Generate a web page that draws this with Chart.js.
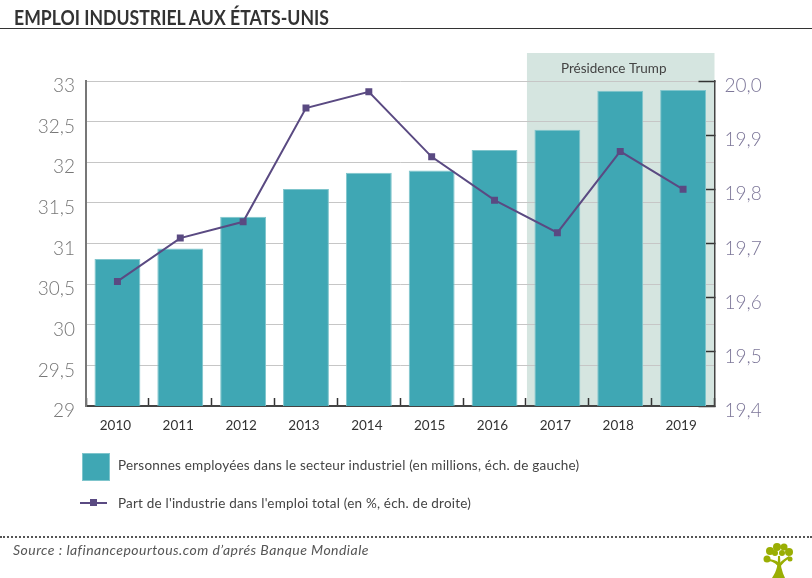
<!DOCTYPE html>
<html lang="fr">
<head>
<meta charset="utf-8">
<title>Emploi industriel aux États-Unis</title>
<script src="https://cdn.jsdelivr.net/npm/chart.js@4"></script>
<style>
  html, body { margin: 0; padding: 0; background: #fff; }
  #page { position: relative; width: 812px; height: 578px; overflow: hidden; font-family: Lato, sans-serif; color: #444; }
  #dataChart { position: absolute; left: 0; top: 0; }
  #pageTitle { position: absolute; left: 14px; top: 4px; font-size: 21px; font-weight: 700; color: #333; white-space: nowrap; transform: scaleX(0.84); transform-origin: left center; }
  #titleRule { position: absolute; left: 0; top: 28px; width: 812px; border-top: 1.5px solid #333; }
  .legendText { position: absolute; left: 118px; font-size: 13.5px; font-weight: 400; letter-spacing: 0.2px; color: #444; white-space: nowrap; }
  #legendBox { position: absolute; left: 82px; top: 453px; width: 26px; height: 26px; background: #3fa7b4; border: 1px solid #7fc5cc; }
  #legendLine { position: absolute; left: 80px; top: 501.5px; width: 27px; height: 2px; background: #5a4a82; }
  #legendDot { position: absolute; left: 90px; top: 499px; width: 7px; height: 7px; background: #5a4a82; }
  #dotRule { position: absolute; left: 0; top: 536px; width: 812px; border-top: 2px dotted #555; }
  #source { position: absolute; left: 13px; top: 541px; font-size: 14px; font-style: italic; letter-spacing: 0.46px; color: #555; white-space: nowrap; }
  #logo { position: absolute; left: 762px; top: 542px; }
</style>
</head>
<body>
<div id="page">
  <canvas id="dataChart" width="812" height="578"></canvas>
  <div id="pageTitle">EMPLOI INDUSTRIEL AUX ÉTATS-UNIS</div>
  <div id="titleRule"></div>
  <div id="legendBox"></div>
  <div class="legendText" id="legendBar" style="top:457px"></div>
  <div id="legendLine"></div>
  <div id="legendDot"></div>
  <div class="legendText" id="legendPart" style="top:495px"></div>
  <div id="dotRule"></div>
  <div id="source">Source : lafinancepourtous.com d’aprés Banque Mondiale</div>
  <svg id="logo" width="32" height="36" viewBox="0 0 32 36">
    <g fill="#9aae04">
      <path d="M10 36 C15 29 16 22 16 14 L18 14 C18 22 20 30 23 36 Z"/>
      <path d="M16 24 C12 20 9 19 5 19 L5 17 C10 17 14 18 17 21 Z"/>
      <path d="M17 22 C20 18 24 16 27 14 L28 16 C24 18 21 21 18 25 Z"/>
      <circle cx="5" cy="17" r="3.5"/><circle cx="8" cy="9" r="4"/><circle cx="15" cy="5" r="4"/>
      <circle cx="22" cy="5" r="3.5"/><circle cx="27" cy="10" r="4"/><circle cx="28" cy="17" r="2.5"/>
      <circle cx="13" cy="11" r="3"/><circle cx="20" cy="11" r="3"/>
    </g>
  </svg>
</div>
<script>
// Données
const years = ["2010", "2011", "2012", "2013", "2014", "2015", "2016", "2017", "2018", "2019"];
const employes = [30.81, 30.94, 31.33, 31.67, 31.87, 31.9, 32.15, 32.4, 32.88, 32.89];
const partEmploi = [19.63, 19.71, 19.74, 19.95, 19.98, 19.86, 19.78, 19.72, 19.87, 19.8];
const employesLabel = "Personnes employées dans le secteur industriel (en millions, éch. de gauche)";
const partLabel = "Part de l'industrie dans l'emploi total (en %, éch. de droite)";
const trumpLabel = "Présidence Trump";
const trumpStart = "2017";

document.getElementById("legendBar").textContent = employesLabel;
document.getElementById("legendPart").textContent = partLabel;

// Bandeau derrière les années Trump
const trumpBand = {
  id: "trumpBand",
  beforeDraw(chart) {
    const { ctx, chartArea, scales } = chart;
    const step = scales.x.getPixelForValue(1) - scales.x.getPixelForValue(0);
    const left = scales.x.getPixelForValue(years.indexOf(trumpStart)) - step / 2 + 1;
    ctx.save();
    ctx.fillStyle = "#d5e5e0";
    ctx.fillRect(left, chartArea.top - 28, chartArea.right - left, chartArea.height + 28);
    ctx.fillStyle = "#444";
    ctx.font = "400 13.5px Lato";
    ctx.textAlign = "center";
    ctx.textBaseline = "middle";
    ctx.fillText(trumpLabel, (left + chartArea.right) / 2 - 7, chartArea.top - 12);
    ctx.restore();
  },
};

new Chart(document.getElementById("dataChart"), {
  type: "bar",
  data: {
    labels: years,
    datasets: [
      {
        type: "line",
        label: partLabel,
        data: partEmploi,
        yAxisID: "yRight",
        borderColor: "#5a4a82",
        backgroundColor: "#5a4a82",
        borderWidth: 2,
        pointStyle: "rect",
        pointRadius: 3.5,
        pointHoverRadius: 3.5,
        tension: 0,
        order: 1,
      },
      {
        label: employesLabel,
        data: employes,
        yAxisID: "yLeft",
        backgroundColor: "#3fa7b4",
        borderColor: "#7fc5cc",
        borderWidth: 1,
        categoryPercentage: 1,
        barPercentage: 0.73,
        order: 2,
      },
    ],
  },
  plugins: [trumpBand],
  options: {
    responsive: false,
    animation: false,
    layout: { padding: { top: 81, left: 0, right: 0, bottom: 0 } },
    plugins: { legend: { display: false }, tooltip: { enabled: false } },
    scales: {
      x: {
        afterFit(scale) { scale.height = 172; },
        grid: { drawOnChartArea: false, tickLength: -8, tickColor: "#333", tickWidth: 1.5 },
        border: { color: "#444", width: 2 },
        ticks: {
          autoSkip: false,
          maxRotation: 0,
          padding: 20,
          labelOffset: -2,
          color: "#333",
          font: { family: "Lato", size: 13.5 },
        },
      },
      yLeft: {
        position: "left",
        min: 29,
        max: 33,
        afterFit(scale) { scale.width = 86; },
        grid: { color: "#c6c6c6", lineWidth: 1, drawTicks: false },
        border: { color: "#777", width: 2 },
        ticks: {
          stepSize: 0.5,
          padding: 11,
          labelOffset: 5,
          color: "#777",
          font: { family: "Lato", size: 19, weight: 300 },
          callback: (v) => String(v).replace(".", ","),
        },
      },
      yRight: {
        position: "right",
        min: 19.4,
        max: 20,
        afterFit(scale) { scale.width = 97.5; },
        grid: { drawOnChartArea: false, tickLength: -16, tickColor: "#333", tickWidth: 1.5 },
        border: { color: "#444", width: 1.5 },
        ticks: {
          stepSize: 0.1,
          padding: 26,
          labelOffset: 5,
          color: "#7d7799",
          font: { family: "Lato", size: 19, weight: 300 },
          callback: (v) => v.toFixed(1).replace(".", ","),
        },
      },
    },
  },
});
</script>
</body>
</html>
